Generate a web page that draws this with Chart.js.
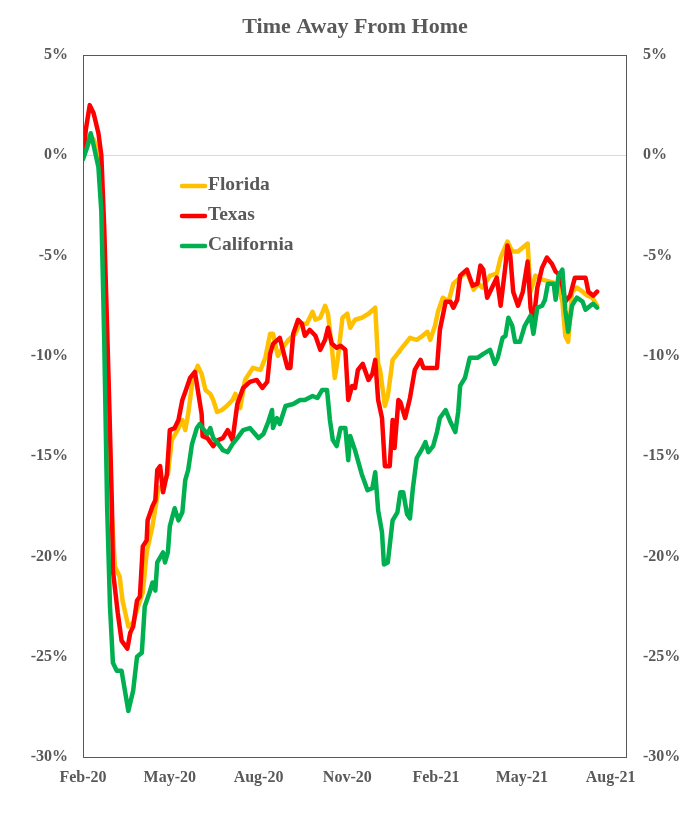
<!DOCTYPE html>
<html>
<head>
<meta charset="utf-8">
<script src="https://cdn.jsdelivr.net/npm/chart.js@4.4.1/dist/chart.umd.min.js"></script>
<style>
  html, body { margin: 0; padding: 0; background: #ffffff; }
  #wrap { width: 692px; height: 825px; position: relative; }
</style>
</head>
<body>
<div id="wrap"><canvas id="c" width="692" height="825"></canvas></div>
<script>
// Days since 15-Feb-2020 and percent change in time away from home
const floridaDays = [0,3,7,11,15,18,21,24,26,29,33,38,41,47,52,57,62,66,72,78,83,88,92,98,103,106,109,114,119,123,127,132,135,139,144,149,155,158,163,168,176,184,189,194,197,202,207,213,220,225,232,238,241,246,251,254,258,261,264,269,274,277,282,289,296,303,306,308,313,316,321,326,329,334,339,346,352,357,360,365,368,373,379,384,391,398,405,410,414,422,429,433,440,445,451,461,464,469,476,484,492,497,500,503,507,512,518,523,528,533];
const floridaValues = [-0.1,0.3,1.0,0.8,0.3,-0.7,-3.7,-8.7,-11.2,-17.2,-20.5,-21.0,-22.2,-23.5,-23.3,-22.5,-21.8,-19.8,-18.5,-16.7,-16.4,-15.9,-14.2,-13.7,-13.2,-13.7,-12.9,-11.1,-10.5,-10.9,-11.7,-11.9,-12.2,-12.8,-12.7,-12.5,-12.2,-11.9,-12.6,-11.2,-10.6,-10.7,-10.1,-8.9,-8.9,-10.0,-9.6,-9.2,-8.9,-8.4,-8.4,-7.8,-8.2,-8.1,-7.5,-7.9,-9.6,-11.1,-10.2,-8.1,-7.9,-8.6,-8.2,-8.1,-7.9,-7.6,-10.4,-10.7,-12.5,-12.0,-10.2,-9.9,-9.7,-9.4,-9.1,-9.2,-9.0,-8.8,-9.2,-8.5,-7.8,-7.1,-7.3,-6.4,-6.1,-5.8,-6.7,-6.4,-6.6,-6.0,-5.9,-5.1,-4.3,-4.8,-4.8,-4.4,-6.8,-6.0,-6.2,-6.3,-6.4,-7.3,-9.0,-9.3,-6.8,-6.6,-6.8,-7.0,-7.1,-7.5];

const texasDays = [0,3,7,11,16,19,22,25,27,30,31,36,40,46,49,52,56,59,62,66,67,72,75,77,80,83,87,90,95,99,103,106,111,116,119,123,124,129,135,140,145,150,155,160,166,173,180,186,191,194,197,204,212,215,218,223,227,230,235,241,246,251,254,258,263,267,272,275,279,282,285,290,296,300,303,306,310,313,318,321,323,327,329,334,339,344,350,353,367,370,376,381,384,388,391,398,404,409,412,415,419,424,429,433,438,440,443,446,451,456,461,464,467,471,476,481,486,490,495,500,505,510,521,524,529,533];
const texasValues = [-0.1,1.3,2.5,2.1,1.1,0.0,-3.6,-8.6,-12.0,-17.5,-20.7,-22.8,-24.2,-24.6,-23.8,-23.5,-22.2,-22.0,-19.5,-19.2,-18.2,-17.5,-17.2,-15.7,-15.5,-16.8,-15.9,-13.7,-13.6,-13.2,-12.2,-11.8,-11.1,-10.8,-11.7,-12.9,-14.0,-14.1,-14.5,-14.2,-14.1,-13.7,-14.2,-12.4,-11.6,-11.3,-11.2,-11.6,-11.3,-9.9,-9.4,-9.1,-10.6,-10.6,-8.9,-8.2,-8.4,-9.0,-8.7,-9.0,-9.7,-9.2,-8.6,-9.4,-9.6,-9.5,-9.7,-12.2,-11.5,-11.6,-10.7,-10.4,-11.2,-10.9,-10.2,-12.2,-13.1,-15.5,-15.5,-13.2,-14.6,-12.2,-12.3,-13.1,-12.1,-10.7,-10.2,-10.6,-10.6,-8.7,-7.3,-7.3,-7.6,-7.2,-6.0,-5.7,-6.5,-6.4,-5.5,-5.7,-7.1,-6.6,-6.1,-7.5,-5.5,-4.5,-5.0,-6.8,-7.5,-6.8,-5.3,-7.6,-8.3,-6.6,-5.6,-5.1,-5.4,-5.8,-6.0,-7.3,-7.0,-6.1,-6.1,-6.8,-7.0,-6.8];

const californiaDays = [0,5,8,11,16,19,21,22,25,28,31,35,40,47,52,56,61,64,69,72,75,77,83,85,88,90,95,99,103,106,109,113,118,121,124,129,132,135,139,145,150,155,160,166,173,182,187,192,196,197,201,204,210,218,225,230,238,243,248,253,256,259,263,267,272,275,277,282,289,295,300,303,306,310,312,316,321,326,329,332,336,339,342,346,352,355,358,363,367,370,376,381,386,389,391,396,401,409,415,422,427,430,435,438,441,445,448,453,458,464,467,471,476,479,482,488,490,493,497,500,503,507,512,518,521,526,529,533];
const californiaValues = [-0.2,0.5,1.1,0.5,-0.6,-2.8,-7.0,-9.2,-17.5,-22.5,-25.3,-25.7,-25.7,-27.7,-26.7,-25.0,-24.8,-22.5,-21.8,-21.3,-21.7,-20.3,-19.8,-20.3,-19.8,-18.5,-17.6,-18.2,-17.8,-16.2,-15.7,-14.4,-13.6,-13.4,-13.6,-13.9,-13.6,-14.1,-14.3,-14.7,-14.8,-14.4,-14.1,-13.7,-13.6,-14.1,-13.9,-13.3,-12.7,-13.6,-13.1,-13.4,-12.5,-12.4,-12.2,-12.2,-12.0,-12.1,-11.7,-11.7,-13.2,-14.2,-14.5,-13.6,-13.6,-15.2,-14.0,-14.7,-15.9,-16.7,-16.6,-15.8,-17.7,-18.8,-20.4,-20.3,-18.2,-17.8,-16.8,-16.8,-17.9,-18.1,-16.6,-15.1,-14.6,-14.3,-14.8,-14.5,-13.8,-13.1,-12.7,-13.3,-13.8,-12.8,-11.5,-11.1,-10.1,-10.1,-9.9,-9.7,-10.4,-10.1,-9.1,-9.0,-8.1,-8.5,-9.3,-9.3,-8.5,-8.0,-8.9,-7.6,-7.5,-7.2,-6.4,-6.4,-7.2,-6.0,-5.7,-7.7,-8.8,-7.5,-7.1,-7.3,-7.7,-7.5,-7.4,-7.6];

const tickDays = [0, 90, 182, 274, 366, 455, 547];
const tickLabels = ['Feb-20', 'May-20', 'Aug-20', 'Nov-20', 'Feb-21', 'May-21', 'Aug-21'];
const seriesNames = ['Florida', 'Texas', 'California'];
const seriesColors = ['#FFC000', '#FF0000', '#00B050'];

const FONT = '"Liberation Serif", "Times New Roman", serif';
const GREY = '#595959';

function pts(days, vals) { return days.map((d, i) => ({ x: d, y: vals[i] })); }

const frameAndLegend = {
  id: 'frameAndLegend',
  afterDatasetsDraw(chart) {
    const { ctx, chartArea: a } = chart;
    ctx.save();
    ctx.strokeStyle = GREY;
    ctx.lineWidth = 1;
    ctx.strokeRect(Math.round(a.left) + 0.5, Math.round(a.top) + 0.5,
                   Math.round(a.right - a.left) - 1, Math.round(a.bottom - a.top));
    // legend
    ctx.font = 'bold 19.5px ' + FONT;
    ctx.textBaseline = 'middle';
    ctx.lineCap = 'round';
    const lx = a.left + 99, ly = a.top + 131, gap = 30;
    seriesNames.forEach((n, i) => {
      const y = ly + i * gap;
      ctx.strokeStyle = seriesColors[i];
      ctx.lineWidth = 4.5;
      ctx.beginPath(); ctx.moveTo(lx, y); ctx.lineTo(lx + 23, y); ctx.stroke();
      ctx.fillStyle = GREY;
      ctx.fillText(n, lx + 26, y - 1);
    });
    ctx.restore();
  }
};

const yCommon = {
  min: -30, max: 5,
  afterFit(s) { s.width = 65; },
  border: { display: false },
  ticks: { stepSize: 5, color: GREY, font: { family: FONT, size: 16, weight: 'bold' },
           callback: v => v + '%' }
};

new Chart(document.getElementById('c'), {
  type: 'line',
  data: {
    datasets: [
      { label: seriesNames[0], data: pts(floridaDays, floridaValues), borderColor: seriesColors[0], order: 3 },
      { label: seriesNames[1], data: pts(texasDays, texasValues), borderColor: seriesColors[1], order: 2 },
      { label: seriesNames[2], data: pts(californiaDays, californiaValues), borderColor: seriesColors[2], order: 1 }
    ]
  },
  options: {
    responsive: false,
    animation: false,
    parsing: true,
    layout: { padding: { left: 18, right: 0, top: 8, bottom: 28 } },
    elements: {
      line: { borderWidth: 4.5, tension: 0, borderJoinStyle: 'round', borderCapStyle: 'round', fill: false },
      point: { radius: 0, hoverRadius: 0 }
    },
    plugins: {
      legend: { display: false },
      tooltip: { enabled: false },
      title: {
        display: true, text: 'Time Away From Home', color: GREY,
        font: { family: FONT, size: 22, weight: 'bold' },
        padding: { top: 6, bottom: 14.6 }
      }
    },
    scales: {
      x: {
        type: 'linear', min: 0, max: 564,
        afterFit(s) { s.height = 40; },
        afterBuildTicks(s) { s.ticks = tickDays.map(v => ({ value: v })); },
        grid: { display: false, drawTicks: false },
        border: { display: false },
        ticks: {
          padding: 11, color: GREY, maxRotation: 0, autoSkip: false,
          font: { family: FONT, size: 16, weight: 'bold' },
          callback: v => tickLabels[tickDays.indexOf(v)]
        }
      },
      y: Object.assign({}, yCommon, {
        position: 'left',
        grid: { drawTicks: false, color: c => (c.tick && c.tick.value === 0) ? '#D9D9D9' : 'rgba(0,0,0,0)', lineWidth: 1 },
        ticks: Object.assign({}, yCommon.ticks, { padding: 15 })
      }),
      y2: Object.assign({}, yCommon, {
        position: 'right',
        grid: { display: false, drawTicks: false },
        ticks: Object.assign({}, yCommon.ticks, { padding: 16 })
      })
    }
  },
  plugins: [frameAndLegend]
});
</script>
</body>
</html>
